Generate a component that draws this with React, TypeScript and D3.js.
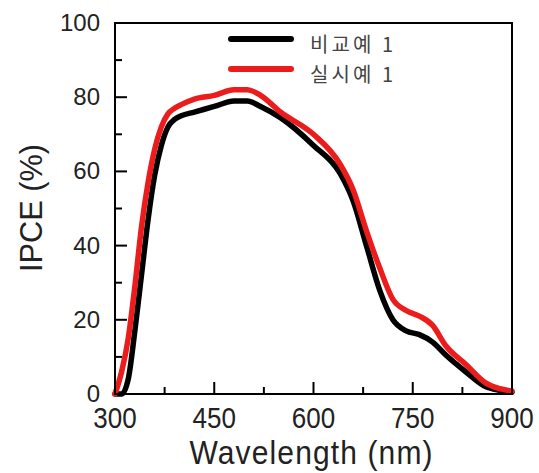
import * as d3 from 'd3';
import { useEffect, useRef } from 'react';

// wavelength (nm) samples
const wavelength = [300, 310, 320, 330, 340, 350, 360, 370, 380, 390, 400, 420, 450, 480, 500, 520, 550, 600, 640, 660, 680, 700, 720, 740, 760, 780, 800, 830, 860, 880, 900];
// 비교예 1 (black)
const compare1 = [0, 0, 4, 17, 32, 47, 59, 67, 72, 74, 75, 76, 77.5, 79, 79, 77.5, 74.5, 67, 59.5, 52, 40, 28, 20, 17, 16, 14, 10.5, 6, 2, 1, 0.5];
// 실시예 1 (red)
const example1 = [0, 6, 15, 29, 45, 57, 66, 72, 75.5, 77, 78, 79.5, 80.5, 82, 82, 80.5, 76, 70, 62, 55, 44, 34, 25.5, 22.5, 21, 18.5, 13, 8, 3, 1.5, 0.8];

const xMajor = [300, 450, 600, 750, 900];
const xMinor = [375, 525, 675, 825];
const yMajor = [0, 20, 40, 60, 80, 100];
const yMinor = [10, 30, 50, 70, 90];

const seriesNames = ['비교예 1', '실시예 1'];
const seriesColors = ['#000000', '#ec1c1c'];

export default function App() {
  const svgRef = useRef<SVGSVGElement>(null);

  useEffect(() => {
    drawChart(svgRef.current!);
  }, []);

  return (
    <svg ref={svgRef} width={539} height={473} style={{ position: 'absolute', left: 0, top: 0, background: '#fff' }} />
  );
}

function drawChart(el: SVGSVGElement) {
  const left = 115, right = 512, top = 23, bottom = 394;
  const font = '"Liberation Sans", Arial, sans-serif';

  const x = d3.scaleLinear().domain([300, 900]).range([left, right]);
  const y = d3.scaleLinear().domain([0, 100]).range([bottom, top]);

  const svg = d3.select(el);
  svg.selectAll('*').remove();

  // series lines
  const line = d3.line<number>()
    .x((_, i) => x(wavelength[i]))
    .y(d => y(d))
    .curve(d3.curveMonotoneX);

  [compare1, example1].forEach((vals, k) => {
    svg.append('path')
      .datum(vals)
      .attr('d', line)
      .attr('fill', 'none')
      .attr('stroke', seriesColors[k])
      .attr('stroke-width', 5.5)
      .attr('stroke-linejoin', 'round')
      .attr('stroke-linecap', 'round');
  });

  // frame
  svg.append('rect')
    .attr('x', left).attr('y', top)
    .attr('width', right - left).attr('height', bottom - top)
    .attr('fill', 'none').attr('stroke', '#000').attr('stroke-width', 2);

  // x ticks (inward)
  const xAxis = svg.append('g');
  xAxis.selectAll('line.major').data(xMajor).enter().append('line')
    .attr('x1', d => x(d)).attr('x2', d => x(d))
    .attr('y1', bottom).attr('y2', bottom - 12)
    .attr('stroke', '#000').attr('stroke-width', 2);
  xAxis.selectAll('line.minor').data(xMinor).enter().append('line')
    .attr('x1', d => x(d)).attr('x2', d => x(d))
    .attr('y1', bottom).attr('y2', bottom - 7)
    .attr('stroke', '#000').attr('stroke-width', 2);
  xAxis.selectAll('text').data(xMajor).enter().append('text')
    .attr('transform', d => `translate(${x(d)},428) scale(1,1.1)`)
    .attr('text-anchor', 'middle')
    .attr('font-family', font).attr('font-size', 26).attr('fill', '#222')
    .text(d => d);

  // y ticks (inward)
  const yAxis = svg.append('g');
  yAxis.selectAll('line.major').data(yMajor).enter().append('line')
    .attr('y1', d => y(d)).attr('y2', d => y(d))
    .attr('x1', left).attr('x2', left + 12)
    .attr('stroke', '#000').attr('stroke-width', 2);
  yAxis.selectAll('line.minor').data(yMinor).enter().append('line')
    .attr('y1', d => y(d)).attr('y2', d => y(d))
    .attr('x1', left).attr('x2', left + 7)
    .attr('stroke', '#000').attr('stroke-width', 2);
  yAxis.selectAll('text').data(yMajor).enter().append('text')
    .attr('x', 100).attr('y', d => y(d) + 8)
    .attr('text-anchor', 'end')
    .attr('font-family', font).attr('font-size', 24).attr('fill', '#222')
    .text(d => d);

  // axis titles
  svg.append('text')
    .attr('transform', 'translate(311,464) scale(1,1.1)')
    .attr('text-anchor', 'middle')
    .attr('font-family', font).attr('font-size', 30).attr('fill', '#222')
    .attr('textLength', 243).attr('lengthAdjust', 'spacing')
    .text('Wavelength (nm)');

  svg.append('text')
    .attr('transform', 'translate(42,208) rotate(-90)')
    .attr('text-anchor', 'middle')
    .attr('font-family', font).attr('font-size', 32).attr('fill', '#222')
    .attr('textLength', 128).attr('lengthAdjust', 'spacingAndGlyphs')
    .text('IPCE (%)');

  // legend
  const legend = svg.append('g');
  seriesNames.forEach((name, k) => {
    const ly = 39 + k * 30;
    legend.append('line')
      .attr('x1', 231).attr('x2', 291)
      .attr('y1', ly).attr('y2', ly)
      .attr('stroke', seriesColors[k]).attr('stroke-width', 6)
      .attr('stroke-linecap', 'round');
    legend.append('text')
      .attr('x', 310).attr('y', ly + 13)
      .attr('font-family', '"Noto Sans CJK KR", sans-serif')
      .attr('font-size', 20).attr('fill', '#444')
      .attr('textLength', 83).attr('lengthAdjust', 'spacing')
      .text(name);
  });
}
